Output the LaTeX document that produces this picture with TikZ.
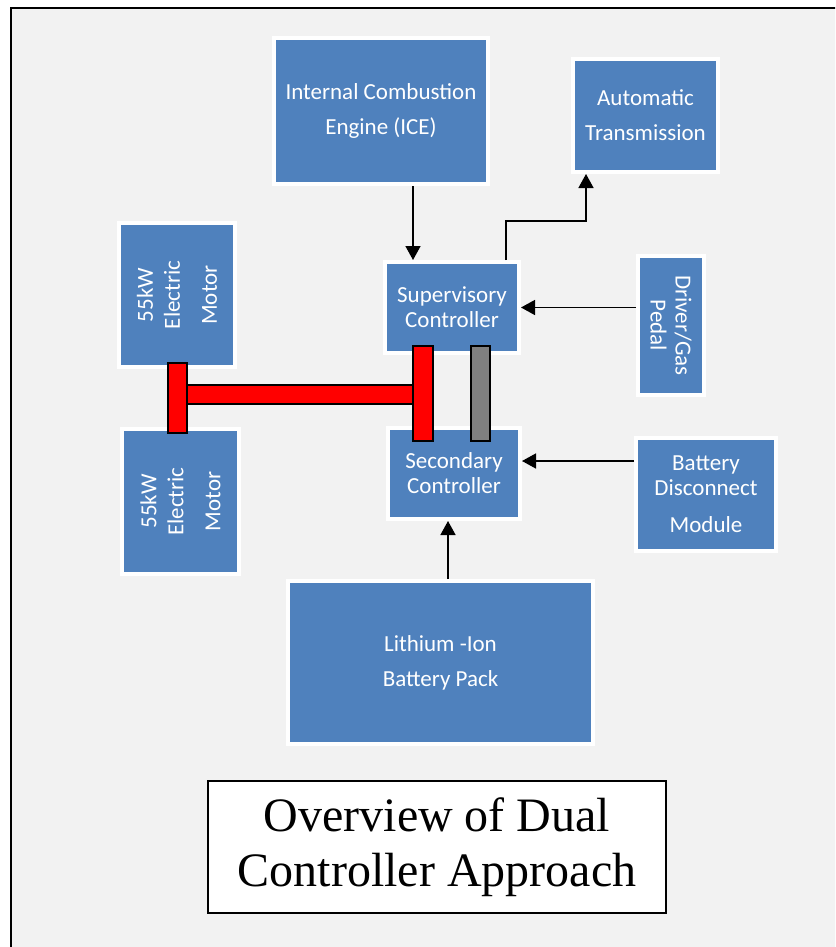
\documentclass[tikz,border=0pt]{standalone}
\usepackage{fontspec}
\setmainfont{Carlito}
\newfontfamily\titlefont{Liberation Serif}
\usepackage{xcolor}
\usepackage{tikz}
\usetikzlibrary{arrows.meta}
\usetikzlibrary{calc}
\usetikzlibrary{positioning}
\definecolor{boxblue}{HTML}{4F81BD}
\definecolor{pagegray}{HTML}{F2F2F2}
\definecolor{linkgray}{HTML}{808080}

\begin{document}
\begin{tikzpicture}[x=1pt,y=-1pt,-,auto,semithick]
		\tikzstyle{block}=[rectangle, fill=boxblue, draw=white, line width=4pt, inner sep=0pt, text=white, align=center, font=\fontsize{23}{35}\selectfont]
		\tikzstyle{tight}=[font=\fontsize{23}{25}\selectfont]
		\tikzstyle{bar}=[rectangle, draw=black, line width=1.3pt, inner sep=0pt]
		\tikzstyle{arr}=[-{Triangle[length=14pt,width=15pt]}, line width=1.5pt]
	\useasboundingbox (0,0) rectangle (835,947);
	\clip (0,0) rectangle (835,947);
	\fill[white] (0,0) rectangle (835,947);
	\draw[fill=pagegray, line width=2pt] (11,8) rectangle (850,960);
	% blocks
			\node[block, minimum width=214, minimum height=146] (ice) at (381,111) {Internal Combustion\\Engine (ICE)};
			\node[block, minimum width=145, minimum height=113] (trans) at (645.5,115.5) {Automatic\\Transmission};
			\node[block, tight, minimum width=134, minimum height=91] (sup) at (452,307.5) {Supervisory\\Controller};
			\node[block, tight, minimum width=132, minimum height=91] (sec) at (454,473.5) {Secondary\\Controller};
			\node[block, font=\fontsize{23}{27}\selectfont, rotate=90, minimum width=144, minimum height=116] (motA) at (177,295) {55kW\\Electric\\[10pt]Motor};
			\node[block, font=\fontsize{23}{27}\selectfont, rotate=90, minimum width=145, minimum height=117] (motB) at (180.5,501.5) {55kW\\Electric\\[10pt]Motor};
			\node[block, tight, rotate=-90, minimum width=139, minimum height=66] (pedal) at (671,325.5) {Driver/Gas\\Pedal};
			\node[block, tight, minimum width=140, minimum height=113] (bdm) at (706,494) {Battery\\Disconnect\\[12pt]Module};
			\node[block, minimum width=305, minimum height=163] (li) at (440.5,662.5) {Lithium -Ion\\Battery Pack};
	% shafts
			\node[bar, fill=red, minimum width=228, minimum height=19] (shaft) at (300,394.5) {};
			\node[bar, fill=red, minimum width=19, minimum height=70] (barL) at (177.5,398) {};
			\node[bar, fill=red, minimum width=20, minimum height=95] (barR) at (423,393.5) {};
			\node[bar, fill=linkgray, minimum width=19, minimum height=95] (barG) at (480.5,393.5) {};
	% signals
			\path[arr]
				(ice.south -| 413,0) edge (sup.north -| 413,0)
				(pedal.south |- sup.east) edge (sup.east)
				(bdm.west |- 0,461) edge (sec.east |- 0,461)
				(li.north -| 448,0) edge (sec.south -| 448,0);
			\draw[arr] (sup.north -| 506,0) -- ++(0,-39) -| (trans.south -| 586,0);
	% caption
			\node[draw=black, fill=white, line width=1.5pt, minimum width=458, minimum height=132, inner sep=0pt, align=center, font=\titlefont\fontsize{48}{55}\selectfont] (title) at (437,847) {Overview of Dual\\Controller Approach};
		\end{tikzpicture}
\end{document}
